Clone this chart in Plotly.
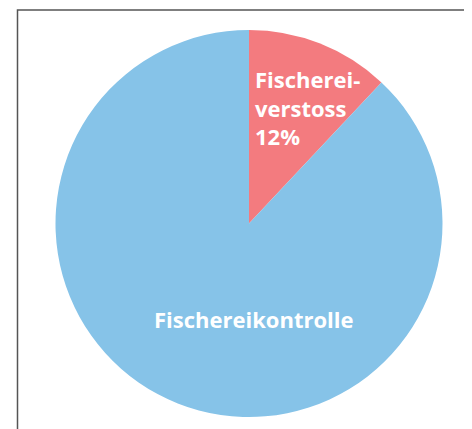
import plotly.graph_objects as go

labels = ["Fischereiverstoss", "Fischereikontrolle"]
values = [12, 88]
colors = ["#F37B7F", "#86C3E8"]
label_texts = ["Fischerei-<br>verstoss<br>12%", "Fischereikontrolle"]

W, H = 464, 421
OFF = 8  # page body margin


def px(x):
    return (x - OFF) / W


def py(y):
    return 1 - (y - OFF) / H


fig = go.Figure(go.Pie(
    labels=labels,
    values=values,
    marker=dict(colors=colors, line=dict(width=0)),
    sort=False,
    direction="clockwise",
    rotation=0,
    textinfo="none",
    hoverinfo="label+percent",
    domain=dict(x=[px(55), px(443)], y=[py(417), py(30)]),
    showlegend=False,
))

fig.add_shape(type="rect", xref="paper", yref="paper",
              x0=px(17.5), x1=1.2, y0=-0.2, y1=py(10),
              line=dict(color="#555555", width=1.5), fillcolor="rgba(0,0,0,0)")

font = dict(family="Open Sans", size=22, color="white")
fig.add_annotation(text="<b>" + label_texts[0].replace("<br>", "</b><br><b>") + "</b>",
                   xref="paper", yref="paper", x=px(253), y=py(62),
                   xanchor="left", yanchor="top", align="left", showarrow=False,
                   font=font)
fig.add_annotation(text="<b>" + label_texts[1] + "</b>",
                   xref="paper", yref="paper", x=px(254), y=py(319),
                   xanchor="center", yanchor="middle", align="center", showarrow=False,
                   font=font)

fig.update_layout(width=W, height=H, margin=dict(l=0, r=0, t=0, b=0),
                  paper_bgcolor="white", plot_bgcolor="white")

fig.write_html("out.html")
